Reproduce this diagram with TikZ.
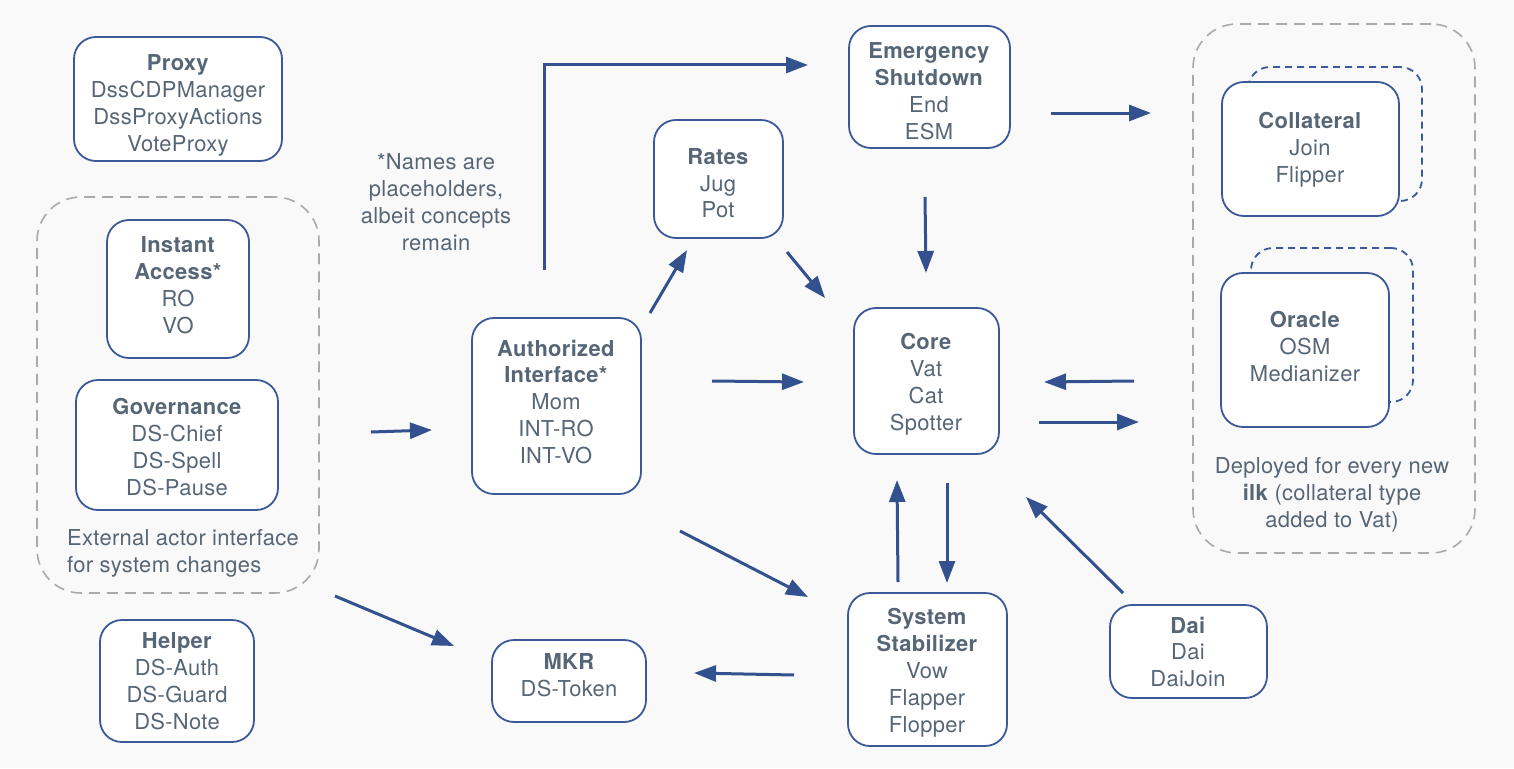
\documentclass[tikz,border=0pt]{standalone}
\usepackage{fontspec}
\setmainfont{TeX Gyre Heros}[LetterSpace=1.5]
\usetikzlibrary{arrows.meta}
\definecolor{bgc}{HTML}{F9F9F9}
\definecolor{txt}{HTML}{566676}
\definecolor{bord}{HTML}{3B5998}
\definecolor{arr}{HTML}{34518F}
\definecolor{grp}{HTML}{AAAAAA}
\tikzset{
  box/.style={draw=bord, line width=1.8bp, fill=white, rounded corners=22bp, inner sep=0pt, outer sep=0pt},
  ghost/.style={draw=bord, line width=1.8bp, dash pattern=on 7bp off 5bp, rounded corners=22bp, inner sep=0pt, outer sep=0pt},
  grpbox/.style={draw=grp, line width=1.6bp, dash pattern=on 11bp off 7bp, rounded corners=44bp, inner sep=0pt, outer sep=0pt},
  lbl/.style={anchor=north, inner sep=0pt, align=center, text=txt, font=\fontsize{22}{27}\selectfont},
  conn/.style={draw=arr, line width=3bp, -{Triangle[length=22bp,width=16bp]}},
}
\begin{document}
\begin{tikzpicture}[x=1bp,y=-1bp]
\fill[bgc] (0,0) rectangle (1514,768);
\useasboundingbox (0,0) rectangle (1514,768);

% groups
\node[grpbox, minimum width=282bp, minimum height=396bp] (leftg) at (178,395) {};
\node[grpbox, minimum width=282bp, minimum height=529bp] (rightg) at (1334,288.5) {};

% ghost boxes
\node[ghost, minimum width=174bp, minimum height=134bp] (collB) at (1335,134) {};
\node[ghost, minimum width=162bp, minimum height=154bp] (oraB) at (1332,325) {};

% boxes
\node[box, minimum width=208bp, minimum height=124bp] (proxy) at (178,99) {};
\node[box, minimum width=142bp, minimum height=138bp] (inst) at (178,289) {};
\node[box, minimum width=202bp, minimum height=130bp] (gov) at (177,445) {};
\node[box, minimum width=154bp, minimum height=122bp] (helper) at (177,681) {};
\node[box, minimum width=169bp, minimum height=176bp] (auth) at (556.5,406) {};
\node[box, minimum width=154bp, minimum height=82bp] (mkr) at (569,681) {};
\node[box, minimum width=129bp, minimum height=118bp] (rates) at (718.5,179) {};
\node[box, minimum width=161bp, minimum height=122bp] (emerg) at (929.5,87) {};
\node[box, minimum width=145bp, minimum height=146bp] (core) at (926.5,381) {};
\node[box, minimum width=159bp, minimum height=153bp] (stab) at (927.5,669.5) {};
\node[box, minimum width=157bp, minimum height=93bp] (dai) at (1188.5,651.5) {};
\node[box, minimum width=177bp, minimum height=134bp] (coll) at (1310.5,149) {};
\node[box, minimum width=168bp, minimum height=154bp] (ora) at (1305,350) {};

% texts
\node[lbl] (proxyT) at (178,54.5) {\textbf{Proxy}\\DssCDPManager\\DssProxyActions\\VoteProxy};
\node[lbl] (instT) at (178,236.5) {\textbf{Instant}\\\textbf{Access*}\\RO\\VO};
\node[lbl] (govT) at (177,398.5) {\textbf{Governance}\\DS-Chief\\DS-Spell\\DS-Pause};
\node[lbl] (helpT) at (177,632.5) {\textbf{Helper}\\DS-Auth\\DS-Guard\\DS-Note};
\node[lbl] (authT) at (556,339.5) {\textbf{Authorized}\\\textbf{Interface*}\\Mom\\INT-RO\\INT-VO};
\node[lbl] (mkrT) at (569,653.5) {\textbf{MKR}\\DS-Token};
\node[lbl] (ratesT) at (718,148) {\textbf{Rates}\\Jug\\Pot};
\node[lbl] (emergT) at (929,42.5) {\textbf{Emergency}\\\textbf{Shutdown}\\End\\ESM};
\node[lbl] (coreT) at (926,333.5) {\textbf{Core}\\Vat\\Cat\\Spotter};
\node[lbl] (stabT) at (927,608) {\textbf{System}\\\textbf{Stabilizer}\\Vow\\Flapper\\Flopper};
\node[lbl] (daiT) at (1188,616.5) {\textbf{Dai}\\Dai\\DaiJoin};
\node[lbl] (collT) at (1310,112.5) {\textbf{Collateral}\\Join\\Flipper};
\node[lbl] (oraT) at (1305,311.5) {\textbf{Oracle}\\OSM\\Medianizer};
\node[lbl] (noteT) at (436,153.5) {*Names are\\placeholders,\\albeit concepts\\remain};
\node[lbl, anchor=north west, align=left] (leftgT) at (67,529) {External actor interface\\for system changes};
\node[lbl] (rightgT) at (1332,457.5) {Deployed for every new\\\textbf{ilk} (collateral type\\added to Vat)};

% connector end points
\coordinate (g2aS) at (371,432); \coordinate (g2aE) at (432,430);
\coordinate (elS) at (544,270); \coordinate (elM) at (544,65); \coordinate (elE) at (808,65);
\coordinate (a2rS) at (650,313); \coordinate (a2rE) at (687,250);
\coordinate (r2cS) at (787,252); \coordinate (r2cE) at (825,298);
\coordinate (a2cS) at (712,381); \coordinate (a2cE) at (804,382);
\coordinate (e2cS) at (925,197); \coordinate (e2cE) at (926,273);
\coordinate (e2gS) at (1051,113); \coordinate (e2gE) at (1151,113);
\coordinate (g2cS) at (1134,381); \coordinate (g2cE) at (1044,382);
\coordinate (c2gS) at (1039,422); \coordinate (c2gE) at (1139,422);
\coordinate (a2sS) at (680,531); \coordinate (a2sE) at (808,597);
\coordinate (s2cS) at (898,582); \coordinate (s2cE) at (897,480);
\coordinate (c2sS) at (947,483); \coordinate (c2sE) at (947,583);
\coordinate (d2cS) at (1123,593); \coordinate (d2cE) at (1026,497);
\coordinate (s2mS) at (794,675); \coordinate (s2mE) at (694,673);
\coordinate (g2mS) at (335,596); \coordinate (g2mE) at (454,646);

% connectors
\draw[conn] (g2aS) -- (g2aE);
\draw[conn] (elS) -- (elM) -- (elE);
\draw[conn] (a2rS) -- (a2rE);
\draw[conn] (r2cS) -- (r2cE);
\draw[conn] (a2cS) -- (a2cE);
\draw[conn] (e2cS) -- (e2cE);
\draw[conn] (e2gS) -- (e2gE);
\draw[conn] (g2cS) -- (g2cE);
\draw[conn] (c2gS) -- (c2gE);
\draw[conn] (a2sS) -- (a2sE);
\draw[conn] (s2cS) -- (s2cE);
\draw[conn] (c2sS) -- (c2sE);
\draw[conn] (d2cS) -- (d2cE);
\draw[conn] (s2mS) -- (s2mE);
\draw[conn] (g2mS) -- (g2mE);
\end{tikzpicture}
\end{document}
